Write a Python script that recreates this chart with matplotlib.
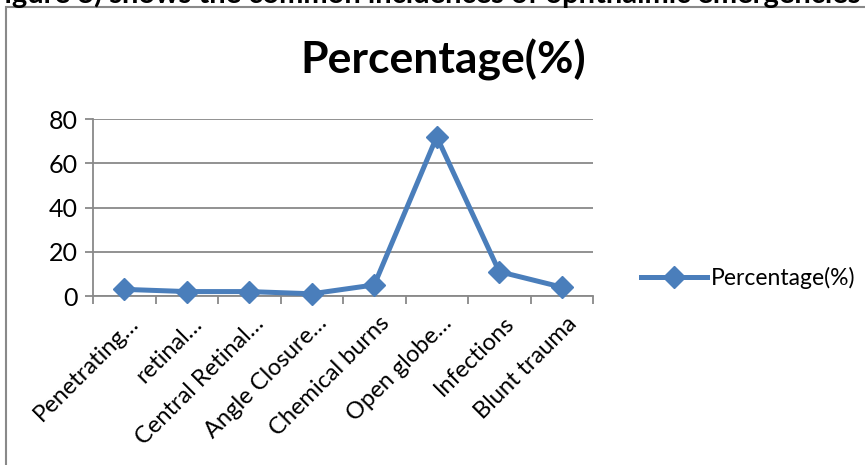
import matplotlib.pyplot as plt
import matplotlib.transforms as mtransforms
from matplotlib.patches import Rectangle
from matplotlib.lines import Line2D

# data
categories = ['Penetrating…', 'retinal…', 'Central Retinal…', 'Angle Closure…',
              'Chemical burns', 'Open globe…', 'Infections', 'Blunt trauma']
percentage = [3, 2, 2, 1, 5, 72, 11, 4]
y_ticks = [0, 20, 40, 60, 80]

plt.rcParams['font.family'] = ['Lato', 'DejaVu Sans']

W, H = 865, 465
fig = plt.figure(figsize=(W / 100, H / 100), dpi=100)

# caption of the page, cut off at the top
fig.text(-0.014, 1.0 + 6 / H, 'Figure 3) shows the common incidences of ophthalmic emergencies',
         fontsize=21, fontweight='bold', ha='left', va='center', color='black')

# chart area border
fig.patches.append(Rectangle((6 / W, -0.1), 1.2, 1.1 - 7 / H, transform=fig.transFigure,
                             fill=False, edgecolor='#898989', linewidth=1.5))

ax = fig.add_axes([93 / W, 1 - 296 / H, 500 / W, 177 / H])
x = list(range(len(categories)))
line_color = '#4A7EBB'
ax.plot(x, percentage, color=line_color, linewidth=3.6, marker='D', markersize=11,
        label='Percentage(%)', clip_on=False, zorder=3)

ax.set_xlim(-0.5, len(categories) - 0.5)
ax.set_ylim(0, 80)
ax.set_yticks(y_ticks)
ax.tick_params(axis='y', labelsize=18, length=6, width=1.3, color='#898989', pad=5)
ax.yaxis.grid(True, color='#898989', linewidth=1.3)
ax.set_axisbelow(True)

ax.set_xticks([i - 0.5 for i in range(len(categories) + 1)], minor=False)
ax.set_xticklabels([''] * (len(categories) + 1))
ax.set_xticks(x, minor=True)
ax.set_xticklabels(categories, minor=True, rotation=45, ha='right', rotation_mode='anchor',
                   fontsize=17)
ax.tick_params(axis='x', which='major', length=6, width=1.3, color='#898989')
ax.tick_params(axis='x', which='minor', length=0, pad=12)
shift = mtransforms.ScaledTranslation(4 / 100, 0, fig.dpi_scale_trans)
for lbl in ax.get_xticklabels(minor=True):
    lbl.set_transform(lbl.get_transform() + shift)

for side in ['top', 'right']:
    ax.spines[side].set_visible(False)
for side in ['left', 'bottom']:
    ax.spines[side].set_color('#898989')
    ax.spines[side].set_linewidth(1.3)

fig.text(443 / W, 1 - 60 / H, 'Percentage(%)', fontsize=32, fontweight='bold',
         ha='center', va='center')

handle = Line2D([], [], color=line_color, linewidth=3.6, marker='D', markersize=11)
fig.legend([handle], ['Percentage(%)'], loc='center left',
           bbox_to_anchor=(620 / W, 1 - 278 / H), frameon=False, fontsize=16.5,
           handlelength=2.9, handletextpad=0.15)

fig.savefig('out.png', dpi=100)
